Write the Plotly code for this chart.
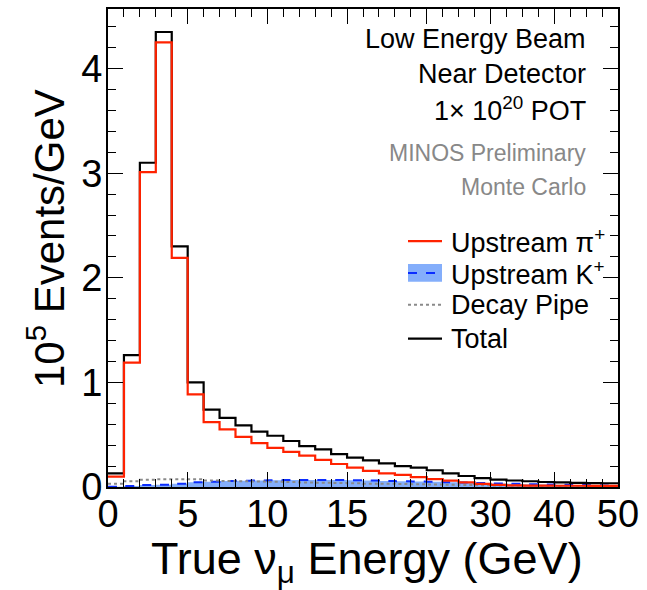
import plotly.graph_objects as go

# Bin edges (GeV): 1 GeV bins up to 20, then 2.5 GeV bins up to 50 (equal drawn width)
edges_gev = [0, 1, 2, 3, 4, 5, 6, 7, 8, 9, 10, 11, 12, 13, 14, 15, 16, 17, 18, 19, 20,
             22.5, 25, 27.5, 30, 32.5, 35, 37.5, 40, 42.5, 45, 47.5, 50]

# Events per GeV (units of 1e5)
total = [0.13, 1.26, 3.10, 4.35, 2.30, 1.00, 0.74, 0.66, 0.59, 0.53, 0.49, 0.44,
         0.39, 0.36, 0.315, 0.28, 0.255, 0.225, 0.20, 0.185, 0.16, 0.13, 0.105,
         0.085, 0.07, 0.062, 0.055, 0.048, 0.044, 0.04, 0.038, 0.036]
upstream_pi = [0.10, 1.19, 3.01, 4.25, 2.19, 0.885, 0.62, 0.55, 0.48, 0.42, 0.375,
               0.335, 0.30, 0.26, 0.22, 0.185, 0.155, 0.13, 0.115, 0.095, 0.075,
               0.06, 0.045, 0.03, 0.02, 0.016, 0.014, 0.013, 0.012, 0.012, 0.011, 0.011]
upstream_k = [0.003, 0.01, 0.02, 0.022, 0.03, 0.045, 0.05, 0.057, 0.06, 0.062, 0.065,
              0.066, 0.067, 0.067, 0.066, 0.064, 0.062, 0.058, 0.055, 0.052, 0.05,
              0.046, 0.042, 0.038, 0.034, 0.03, 0.027, 0.024, 0.021, 0.018, 0.016, 0.014]
decay_pipe = [0.03, 0.055, 0.07, 0.075, 0.075, 0.073, 0.062, 0.058, 0.055, 0.052, 0.05,
              0.047, 0.044, 0.041, 0.038, 0.035, 0.032, 0.03, 0.028, 0.026, 0.024,
              0.021, 0.018, 0.016, 0.014, 0.012, 0.011, 0.01, 0.009, 0.008, 0.007, 0.007]

tick_labels_gev = [0, 5, 10, 15, 20, 30, 40, 50]

# drawn x coordinate = bin-edge index
xi = list(range(len(edges_gev)))


def step(vals):
    return vals + [vals[-1]]


FONT = "Liberation Sans, Arial, Helvetica, sans-serif"
RED = "#ff2200"
BLUE = "#0a2cff"
FILL = "rgba(110,160,250,0.85)"
GRAY = "#8a8a8a"

# plot-area pixel frame, used for placing legend/text in paper coords
L, R, T, B = 108, 618, 7, 487


def px(x):
    return (x - L) / (R - L)


def py(y):
    return (B - y) / (B - T)


fig = go.Figure()
fig.add_trace(go.Scatter(x=xi, y=step(upstream_k), mode="lines", line_shape="hv",
                         line=dict(color=BLUE, width=2, dash="dash"), fill="tozeroy",
                         fillcolor=FILL, name="Upstream K<sup>+</sup>", showlegend=False))
fig.add_trace(go.Scatter(x=xi, y=step(decay_pipe), mode="lines", line_shape="hv",
                         line=dict(color=GRAY, width=2, dash="dot"),
                         name="Decay Pipe", showlegend=False))
fig.add_trace(go.Scatter(x=xi, y=step(total), mode="lines", line_shape="hv",
                         line=dict(color="black", width=2.2),
                         name="Total", showlegend=False))
fig.add_trace(go.Scatter(x=xi, y=step(upstream_pi), mode="lines", line_shape="hv",
                         line=dict(color=RED, width=2.2),
                         name="Upstream π<sup>+</sup>", showlegend=False))

tickvals = [edges_gev.index(v) for v in tick_labels_gev]

fig.update_layout(
    width=647, height=590,
    margin=dict(l=L, r=647 - R, t=T, b=590 - B),
    paper_bgcolor="white", plot_bgcolor="white",
    font=dict(family=FONT, color="black"),
    showlegend=False,
    xaxis=dict(range=[0, len(edges_gev) - 1], tickvals=tickvals,
               ticktext=[str(v) for v in tick_labels_gev],
               ticks="inside", ticklen=15, tickwidth=1, tickcolor="black",
               showline=True, linewidth=2, linecolor="black", mirror="allticks",
               showgrid=False, zeroline=False, ticklabelstandoff=-8,
               tickfont=dict(size=38, family=FONT),
               minor=dict(tickvals=xi, ticks="inside", ticklen=8, tickcolor="black",
                          tickwidth=1, showgrid=False)),
    yaxis=dict(range=[0, 4.57], dtick=1, tick0=0,
               ticks="inside", ticklen=15, tickwidth=1, tickcolor="black",
               showline=True, linewidth=2, linecolor="black", mirror="allticks",
               showgrid=False, zeroline=False, ticklabelstandoff=-4,
               tickfont=dict(size=38, family=FONT),
               minor=dict(dtick=0.2, ticks="inside", ticklen=8, tickcolor="black",
                          tickwidth=1, showgrid=False)),
)

# Axis titles
fig.add_annotation(text="True ν<sub>μ</sub> Energy (GeV)", xref="paper", yref="paper",
                   x=px(367), y=py(562), xanchor="center", yanchor="middle", showarrow=False,
                   font=dict(size=45, family=FONT, color="black"))
fig.add_annotation(text="10<sup>5</sup> Events/GeV", xref="paper", yref="paper",
                   x=px(46), y=py(238), xanchor="center", yanchor="middle", textangle=-90,
                   showarrow=False, font=dict(size=42, family=FONT, color="black"))

# Info text
info = [("Low Energy Beam", 37, "black", 27),
        ("Near Detector", 72, "black", 27),
        ("1× 10<sup>20</sup> POT", 107, "black", 27),
        ("MINOS Preliminary", 152, "#888888", 23),
        ("Monte Carlo", 186, "#888888", 23)]
for txt, yy, col, fs in info:
    fig.add_annotation(text=txt, xref="paper", yref="paper",
                       x=px(588), y=py(yy),
                       xanchor="right", yanchor="middle", showarrow=False,
                       font=dict(size=fs, family=FONT, color=col))

# Legend (drawn manually)
leg = [("Upstream π<sup>+</sup>", 240), ("Upstream K<sup>+</sup>", 272),
       ("Decay Pipe", 304), ("Total", 338)]
for txt, yy in leg:
    fig.add_annotation(text=txt, xref="paper", yref="paper", x=px(449), y=py(yy),
                       xanchor="left", yanchor="middle", showarrow=False,
                       font=dict(size=27, family=FONT, color="black"))
x0, x1 = px(408), px(442)
fig.add_shape(type="line", xref="paper", yref="paper", x0=x0, x1=x1, y0=py(240), y1=py(240),
              line=dict(color=RED, width=2.2))
fig.add_shape(type="rect", xref="paper", yref="paper", x0=x0, x1=x1, y0=py(263), y1=py(281),
              line=dict(width=0), fillcolor=FILL)
fig.add_shape(type="line", xref="paper", yref="paper", x0=x0, x1=x1, y0=py(272), y1=py(272),
              line=dict(color=BLUE, width=2, dash="dash"))
fig.add_shape(type="line", xref="paper", yref="paper", x0=x0, x1=x1, y0=py(304), y1=py(304),
              line=dict(color=GRAY, width=2, dash="dot"))
fig.add_shape(type="line", xref="paper", yref="paper", x0=x0, x1=x1, y0=py(338), y1=py(338),
              line=dict(color="black", width=2.2))

fig.write_html("out.html")
